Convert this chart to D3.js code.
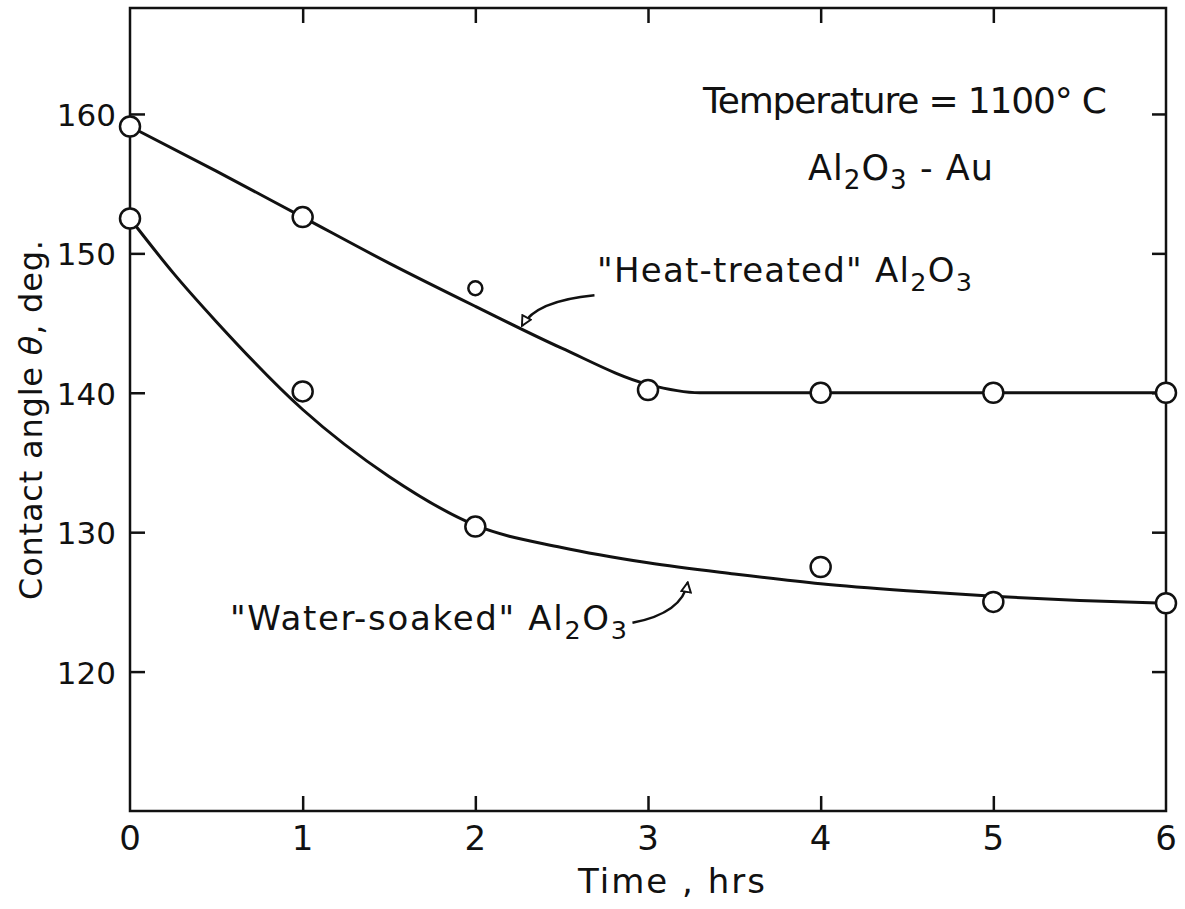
<!DOCTYPE html>
<html>
<head>
<meta charset="utf-8">
<script src="https://cdn.jsdelivr.net/npm/d3@7"></script>
<style>
  html, body { margin: 0; padding: 0; background: #fff; }
  svg { display: block; }
  text { font-family: "DejaVu Sans", "Liberation Sans", sans-serif; fill: #111; }
</style>
</head>
<body>
<svg id="chart" width="1185" height="909"></svg>
<script>
// ---- data ----
const xTicks = [0, 1, 2, 3, 4, 5, 6];
const yTicks = [120, 130, 140, 150, 160];
const xDomain = [0, 6];
const yDomain = [110, 167.6];

// measured points
const heatTime = [0, 1, 2, 3, 4, 5, 6];
const heatAngle = [159.1, 152.6, 147.5, 140.2, 140.0, 140.0, 140.0];
const waterTime = [0, 1, 2, 4, 5, 6];
const waterAngle = [152.5, 140.1, 130.4, 127.5, 125.0, 124.9];

// hand-drawn fitted curves
const heatCurveTime = [0, 0.5, 1, 1.5, 2, 2.5, 3, 3.3, 4, 5, 6];
const heatCurveAngle = [159.1, 155.9, 152.6, 149.3, 146.2, 143.2, 140.6, 140.0, 140.0, 140.0, 140.0];
const waterCurveTime = [0, 0.25, 0.5, 1, 1.5, 2, 2.5, 3, 3.5, 4, 4.5, 5, 5.5, 6];
const waterCurveAngle = [152.5, 148.6, 145.1, 138.8, 134.0, 130.5, 128.9, 127.8, 127.0, 126.3, 125.8, 125.4, 125.1, 124.9];

// annotation arrows (time, angle): start, control, end
const heatArrow = [[2.69, 147.0], [2.35, 146.6], [2.27, 144.8]];
const waterArrow = [[2.91, 123.5], [3.2, 124.2], [3.23, 126.4]];

// ---- layout ----
const W = 1185, H = 909;
const m = { left: 130, right: 19, top: 8, bottom: 98 };
const svg = d3.select("#chart");
svg.append("rect").attr("width", W).attr("height", H).attr("fill", "#fff");

const x = d3.scaleLinear().domain(xDomain).range([m.left, W - m.right]);
const y = d3.scaleLinear().domain(yDomain).range([H - m.bottom, m.top]);

const ink = "#111";

// frame
svg.append("rect")
  .attr("x", x(0)).attr("y", y(yDomain[1]))
  .attr("width", x(6) - x(0)).attr("height", y(yDomain[0]) - y(yDomain[1]))
  .attr("fill", "none").attr("stroke", ink).attr("stroke-width", 2.5);

// axes with inward ticks
const bottomAx = d3.axisBottom(x).tickValues(xTicks.slice(1, -1)).tickSize(-15).tickFormat("");
const topAx = d3.axisTop(x).tickValues(xTicks.slice(1, -1)).tickSize(-15).tickFormat("");
const leftAx = d3.axisLeft(y).tickValues(yTicks).tickSize(-15).tickFormat("");
const rightAx = d3.axisRight(y).tickValues(yTicks).tickSize(-14).tickFormat("");

function styleAxis(g) {
  g.select(".domain").remove();
  g.selectAll(".tick line").attr("stroke", ink).attr("stroke-width", 2.5);
}
svg.append("g").attr("transform", `translate(0,${y(yDomain[0])})`).call(bottomAx).call(styleAxis);
svg.append("g").attr("transform", `translate(0,${y(yDomain[1])})`).call(topAx).call(styleAxis);
svg.append("g").attr("transform", `translate(${x(0)},0)`).call(leftAx).call(styleAxis);
svg.append("g").attr("transform", `translate(${x(6)},0)`).call(rightAx).call(styleAxis);

// tick labels
svg.append("g").selectAll("text").data(xTicks).join("text")
  .attr("x", d => x(d)).attr("y", 850)
  .attr("text-anchor", "middle").attr("font-size", 34)
  .text(d => d);
svg.append("g").selectAll("text").data(yTicks).join("text")
  .attr("x", 116).attr("y", d => y(d) + 12)
  .attr("text-anchor", "end").attr("font-size", 31)
  .text(d => d);

// axis titles
svg.append("text").attr("x", 578).attr("y", 893).attr("font-size", 34)
  .attr("textLength", 187).attr("lengthAdjust", "spacing")
  .text("Time , hrs");
const yl = svg.append("text")
  .attr("transform", "translate(42,420) rotate(-90)")
  .attr("text-anchor", "middle").attr("font-size", 32)
  .attr("textLength", 360).attr("lengthAdjust", "spacing");
yl.append("tspan").text("Contact angle ");
yl.append("tspan").attr("font-style", "italic").text("θ");
yl.append("tspan").text(", deg.");

// curves
const line = d3.line().x(d => x(d[0])).y(d => y(d[1])).curve(d3.curveMonotoneX);
svg.append("path").datum(heatCurveTime.map((t, i) => [t, heatCurveAngle[i]]))
  .attr("d", line).attr("fill", "none").attr("stroke", ink).attr("stroke-width", 3);
svg.append("path").datum(waterCurveTime.map((t, i) => [t, waterCurveAngle[i]]))
  .attr("d", line).attr("fill", "none").attr("stroke", ink).attr("stroke-width", 3);

// points
svg.append("g").selectAll("circle").data(heatTime.map((t, i) => [t, heatAngle[i]])).join("circle")
  .attr("cx", d => x(d[0])).attr("cy", d => y(d[1]))
  .attr("r", (d, i) => i === 2 ? 7 : 10)
  .attr("fill", "#fff").attr("stroke", ink).attr("stroke-width", 2.5);
svg.append("g").selectAll("circle").data(waterTime.map((t, i) => [t, waterAngle[i]])).join("circle")
  .attr("cx", d => x(d[0])).attr("cy", d => y(d[1]))
  .attr("r", 10)
  .attr("fill", "#fff").attr("stroke", ink).attr("stroke-width", 2.5);

// arrow marker (open head)
svg.append("defs").append("marker")
  .attr("id", "ah").attr("viewBox", "0 0 10 10").attr("refX", 9).attr("refY", 5)
  .attr("markerWidth", 12).attr("markerHeight", 12).attr("markerUnits", "userSpaceOnUse")
  .attr("orient", "auto")
  .append("path").attr("d", "M1,1 L9,5 L1,9 Z").attr("fill", "#fff").attr("stroke", ink).attr("stroke-width", 1.6);

function arrowPath(a) {
  return `M${x(a[0][0])},${y(a[0][1])} Q${x(a[1][0])},${y(a[1][1])} ${x(a[2][0])},${y(a[2][1])}`;
}
[heatArrow, waterArrow].forEach(a => {
  svg.append("path").attr("d", arrowPath(a)).attr("fill", "none")
    .attr("stroke", ink).attr("stroke-width", 2.5).attr("marker-end", "url(#ah)");
});

// annotations
function chem(sel, parts, size) {
  parts.forEach(p => {
    const t = sel.append("tspan").text(p.t);
    if (p.sub) t.attr("font-size", size * 0.75).attr("dy", 9);
    else if (p.up) t.attr("dy", -9);
  });
}
svg.append("text").attr("x", 703).attr("y", 113).attr("font-size", 36)
  .attr("textLength", 404).attr("lengthAdjust", "spacing")
  .text("Temperature = 1100° C");

const t2 = svg.append("text").attr("x", 808).attr("y", 180).attr("font-size", 35)
  .attr("textLength", 185).attr("lengthAdjust", "spacing");
chem(t2, [{t: "Al"}, {t: "2", sub: true}, {t: "O", up: true}, {t: "3", sub: true}, {t: " - Au", up: true}], 35);

const t3 = svg.append("text").attr("x", 597).attr("y", 282).attr("font-size", 34)
  .attr("textLength", 375).attr("lengthAdjust", "spacing");
chem(t3, [{t: "\"Heat-treated\" Al"}, {t: "2", sub: true}, {t: "O", up: true}, {t: "3", sub: true}], 34);

const t4 = svg.append("text").attr("x", 230).attr("y", 630).attr("font-size", 34)
  .attr("textLength", 397).attr("lengthAdjust", "spacing");
chem(t4, [{t: "\"Water-soaked\" Al"}, {t: "2", sub: true}, {t: "O", up: true}, {t: "3", sub: true}], 34);
</script>
</body>
</html>
